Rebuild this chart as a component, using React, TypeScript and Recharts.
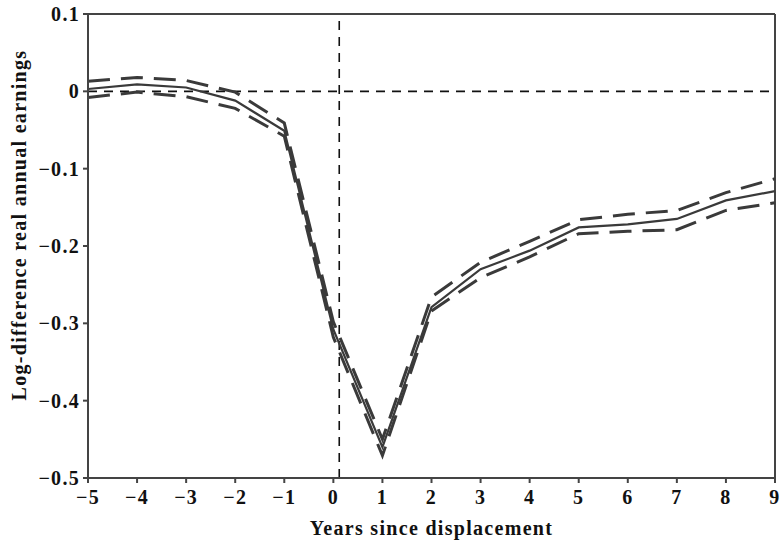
import { LineChart, Line, XAxis, YAxis, ReferenceLine, Label } from 'recharts';

const years = [-5, -4, -3, -2, -1, 0, 1, 2, 3, 4, 5, 6, 7, 8, 9];
const estimate = [0.003, 0.009, 0.005, -0.012, -0.051, -0.308, -0.46, -0.279, -0.23, -0.206, -0.176, -0.172, -0.165, -0.141, -0.129];
const upper = [0.013, 0.018, 0.014, -0.001, -0.041, -0.298, -0.45, -0.266, -0.221, -0.194, -0.166, -0.159, -0.154, -0.131, -0.113];
const lower = [-0.008, -0.001, -0.007, -0.022, -0.058, -0.318, -0.471, -0.284, -0.241, -0.214, -0.184, -0.181, -0.179, -0.154, -0.144];

const xTicks = [-5, -4, -3, -2, -1, 0, 1, 2, 3, 4, 5, 6, 7, 8, 9];
const yTicks = [0.1, 0, -0.1, -0.2, -0.3, -0.4, -0.5];

const data = years.map((year, i) => ({
  year,
  estimate: estimate[i],
  upper: upper[i],
  lower: lower[i],
}));

const INK = '#3a3a3a';
const FONT = '"Liberation Serif", serif';
const textStyle = { fill: '#111', fontSize: 20, fontWeight: 700, fontFamily: FONT, letterSpacing: 1.3 };

const fmt = (v: number) => (v < 0 ? '\u2212' + String(Math.abs(v)) : String(v));

// y title sits a bit above the plot's middle in the original
const YTitle = (props: any) => {
  const vb = props.viewBox || { x: 0, y: 14, width: 88, height: 464 };
  const cx = vb.x + 19;
  const cy = vb.y + vb.height / 2 - 21;
  return (
    <text
      x={cx}
      y={cy}
      transform={`rotate(-90, ${cx}, ${cy})`}
      textAnchor="middle"
      dominantBaseline="central"
      style={textStyle}
    >
      Log-difference real annual earnings
    </text>
  );
};

export default function App() {
  return (
    <div style={{ position: 'absolute', left: 0, top: 0, background: '#fff' }}>
      <LineChart width={784} height={548} data={data} margin={{ top: 14, right: 9, bottom: 0, left: 0 }}>
        <XAxis
          dataKey="year"
          type="number"
          domain={[-5, 9]}
          ticks={xTicks}
          tickFormatter={fmt}
          interval={0}
          height={70}
          tick={textStyle}
          tickSize={5}
          tickMargin={7}
          stroke="#444"
          strokeWidth={2}
        >
          <Label value="Years since displacement" position="insideBottom" offset={13} style={textStyle} />
        </XAxis>
        <YAxis
          type="number"
          domain={[-0.5, 0.1]}
          ticks={yTicks}
          tickFormatter={fmt}
          interval={0}
          width={88}
          tick={textStyle}
          tickSize={5}
          tickMargin={3}
          stroke="#444"
          strokeWidth={2}
        >
          <Label content={YTitle} />
        </YAxis>
        <ReferenceLine y={0.1} stroke="#444" strokeWidth={2} />
        <ReferenceLine x={9} stroke="#444" strokeWidth={2} />
        <ReferenceLine y={0} stroke="#111" strokeWidth={1.6} strokeDasharray="9 7" />
        <ReferenceLine x={0.12} stroke="#111" strokeWidth={1.6} strokeDasharray="9 7" />
        <Line dataKey="upper" stroke={INK} strokeWidth={3} strokeDasharray="22 11" dot={false} isAnimationActive={false} />
        <Line dataKey="lower" stroke={INK} strokeWidth={3} strokeDasharray="22 11" dot={false} isAnimationActive={false} />
        <Line dataKey="estimate" stroke={INK} strokeWidth={2.2} dot={false} isAnimationActive={false} />
      </LineChart>
    </div>
  );
}
